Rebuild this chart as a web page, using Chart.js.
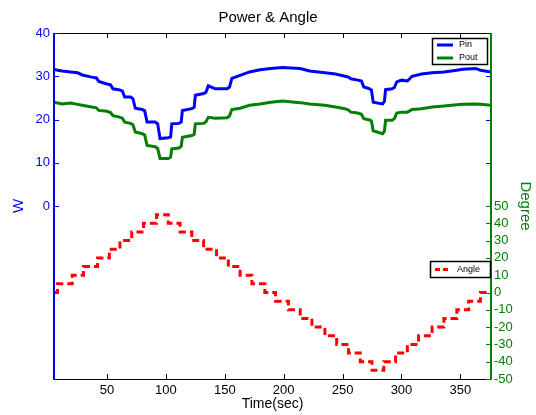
<!DOCTYPE html>
<html>
<head>
<meta charset="utf-8">
<script src="https://cdn.jsdelivr.net/npm/chart.js@4/dist/chart.umd.min.js"></script>
<style>
  body { margin: 0; background: #fff; }
  #wrap { width: 536px; height: 415px; }
</style>
</head>
<body>
<div id="wrap"><canvas id="chart" width="536" height="415"></canvas></div>
<script>
// time axis for power curves (sec)
const timePow = [5, 8, 12, 19, 25, 29, 37, 41, 43, 50, 53, 55, 60, 63, 65, 70, 72, 74, 80, 82, 84, 91, 93, 95,
  102, 104, 105, 111, 113, 114, 122, 124, 125, 132, 134, 136, 142, 152, 154, 156, 163, 171, 180, 189, 199,
  214, 222, 235, 244, 252, 255, 257, 263, 266, 268, 273, 274.5, 276, 284, 285.5, 286.5, 292, 294, 296,
  300, 305, 309, 317, 326, 336, 347, 352, 363, 367, 376];
// input power (W)
const pinW = [31.6, 31.4, 31.2, 31.0, 30.8, 30.3, 29.8, 29.6, 28.8, 28.2, 28.0, 27.1, 26.9, 26.6, 25.2, 25.2, 24.8, 22.6, 22.3, 22.0, 19.4, 19.4, 19.0, 15.6,
  15.8, 16.0, 19.0, 19.1, 19.4, 22.1, 22.5, 22.8, 25.6, 26.0, 26.3, 27.8, 27.1, 27.1, 27.5, 29.5, 30.2, 31.0, 31.5, 31.8, 32.0,
  31.8, 31.2, 30.8, 30.5, 30.0, 29.8, 29.4, 29.1, 28.9, 27.5, 27.1, 26.8, 24.0, 23.6, 24.2, 26.9, 27.1, 27.4, 28.7,
  29.1, 28.9, 30.0, 30.5, 30.8, 31.0, 31.4, 31.6, 31.8, 31.4, 31.0];
// output power (W)
const poutW = [24.0, 23.8, 23.6, 23.8, 23.5, 23.3, 22.9, 22.7, 22.1, 21.9, 21.6, 20.9, 20.6, 20.3, 19.4, 19.1, 18.8, 17.1, 16.7, 16.4, 14.0, 13.7, 13.3, 11.0,
  11.0, 11.3, 13.2, 13.4, 13.8, 15.9, 16.3, 16.6, 19.0, 19.1, 19.5, 20.5, 20.3, 20.4, 20.8, 22.3, 22.6, 23.3, 23.6, 24.0, 24.3,
  23.9, 23.6, 23.3, 22.9, 22.5, 22.2, 21.7, 21.5, 21.2, 20.2, 19.9, 19.6, 17.4, 16.7, 17.3, 19.8, 19.8, 20.2, 21.5,
  21.7, 21.7, 22.3, 22.5, 22.9, 23.1, 23.4, 23.5, 23.6, 23.5, 23.3];
// angle steps: end time of each level (sec) and level (degree)
const timeAngle = [5, 8, 20.5, 30, 42, 52, 61, 71, 81, 92, 102, 112, 122, 132, 143, 153, 163, 173, 184, 193,
  204, 214, 224, 235, 245, 255, 265, 275, 285, 295, 305, 314.5, 326, 336, 347, 357, 367, 376];
const angleDeg = [0, 5, 10, 15, 20, 25, 30, 35, 40, 45, 40, 35, 30, 25, 20, 15, 10, 5, 0, -5,
  -10, -15, -20, -25, -30, -35, -40, -45, -40, -35, -30, -25, -20, -15, -10, -5, 0, 0];

const xTicks = [50, 100, 150, 200, 250, 300, 350];
const wTicks = [0, 10, 20, 30, 40];
const degTicks = [-50, -40, -30, -20, -10, 0, 10, 20, 30, 40, 50];

const BLUE = '#0000ff';
const GREEN = '#008000';
const RED = '#ff0000';
const FONT = '"Liberation Sans", Arial, sans-serif';

function pts(xs, ys) {
  return xs.map((x, i) => ({ x: x, y: ys[i] }));
}

// рамка осей, внутренние засечки и две легенды
const framePlugin = {
  id: 'frame',
  afterDraw(chart) {
    const ctx = chart.ctx;
    const a = chart.chartArea;
    const sx = chart.scales.x, sy = chart.scales.y, sy1 = chart.scales.y1;
    const tl = 5;
    ctx.save();
    ctx.lineWidth = 1;
    // top and bottom
    ctx.strokeStyle = '#000';
    ctx.beginPath();
    ctx.moveTo(a.left, a.top + 0.5); ctx.lineTo(a.right, a.top + 0.5);
    ctx.moveTo(a.left, a.bottom + 0.5); ctx.lineTo(a.right, a.bottom + 0.5);
    xTicks.forEach(v => {
      const px = Math.round(sx.getPixelForValue(v)) + 0.5;
      ctx.moveTo(px, a.top); ctx.lineTo(px, a.top + tl);
      ctx.moveTo(px, a.bottom); ctx.lineTo(px, a.bottom - tl);
    });
    ctx.stroke();
    // left axis (W)
    ctx.strokeStyle = BLUE;
    ctx.lineWidth = 2;
    ctx.beginPath();
    ctx.moveTo(a.left, a.top); ctx.lineTo(a.left, a.bottom + 1);
    ctx.stroke();
    ctx.lineWidth = 1;
    ctx.beginPath();
    wTicks.forEach(v => {
      const py = Math.round(sy.getPixelForValue(v)) + 0.5;
      ctx.moveTo(a.left, py); ctx.lineTo(a.left + tl, py);
      ctx.moveTo(a.right, py); ctx.lineTo(a.right - tl, py);
    });
    ctx.stroke();
    // right axis (Degree)
    ctx.strokeStyle = GREEN;
    ctx.lineWidth = 2;
    ctx.beginPath();
    ctx.moveTo(a.right, a.top); ctx.lineTo(a.right, a.bottom + 1);
    ctx.stroke();
    ctx.lineWidth = 1;
    ctx.beginPath();
    degTicks.forEach(v => {
      const py = Math.round(sy1.getPixelForValue(v)) + 0.5;
      ctx.moveTo(a.right, py); ctx.lineTo(a.right - tl, py);
    });
    ctx.stroke();

    // legend: Pin / Pout
    drawLegend(ctx, 432, 38, 55, 26, [
      { label: 'Pin', color: BLUE, dash: [] },
      { label: 'Pout', color: GREEN, dash: [] }
    ]);
    // legend: Angle
    drawLegend(ctx, 430, 261, 60, 16, [
      { label: 'Angle', color: RED, dash: [5, 3] }
    ]);
    ctx.restore();
  }
};

function drawLegend(ctx, x, y, w, h, items) {
  ctx.save();
  ctx.fillStyle = '#fff';
  ctx.fillRect(x, y, w, h);
  ctx.strokeStyle = '#000';
  ctx.lineWidth = 1.5;
  ctx.setLineDash([]);
  ctx.strokeRect(x + 0.5, y + 0.5, w, h);
  const rowH = h / items.length;
  ctx.font = '9px ' + FONT;
  ctx.textBaseline = 'middle';
  items.forEach((it, i) => {
    const cy = y + rowH * i + rowH / 2 + 0.5;
    ctx.strokeStyle = it.color;
    ctx.lineWidth = 3;
    ctx.setLineDash(it.dash);
    ctx.beginPath();
    ctx.moveTo(x + 5, cy); ctx.lineTo(x + 21, cy);
    ctx.stroke();
    ctx.setLineDash([]);
    ctx.fillStyle = '#000';
    ctx.fillText(it.label, x + 27, cy);
  });
  ctx.restore();
}

const chart = new Chart(document.getElementById('chart'), {
  type: 'line',
  data: {
    datasets: [
      {
        label: 'Pin', data: pts(timePow, pinW), yAxisID: 'y',
        borderColor: BLUE, borderWidth: 3, pointRadius: 0, tension: 0, fill: false
      },
      {
        label: 'Pout', data: pts(timePow, poutW), yAxisID: 'y',
        borderColor: GREEN, borderWidth: 3, pointRadius: 0, tension: 0, fill: false
      },
      {
        label: 'Angle', data: pts(timeAngle, angleDeg), yAxisID: 'y1',
        borderColor: RED, borderWidth: 3, borderDash: [7, 4], pointRadius: 0,
        stepped: 'before', fill: false
      }
    ]
  },
  options: {
    responsive: false,
    animation: false,
    events: [],
    layout: { padding: 0 },
    plugins: {
      legend: { display: false },
      tooltip: { enabled: false },
      title: {
        display: true, text: 'Power & Angle', color: '#000',
        font: { family: FONT, size: 15, weight: 'normal' },
        padding: { top: 9, bottom: 6 }
      }
    },
    scales: {
      x: {
        type: 'linear', min: 5, max: 376,
        grid: { display: false, drawTicks: false }, border: { display: false },
        afterBuildTicks: ax => { ax.ticks = xTicks.map(v => ({ value: v })); },
        afterFit: ax => { ax.height = 36; },
        ticks: { color: '#000', padding: 4, font: { family: FONT, size: 13 } },
        title: {
          display: true, text: 'Time(sec)', color: '#000',
          font: { family: FONT, size: 14 }, padding: { top: 0, bottom: 2 }
        }
      },
      y: {
        type: 'linear', position: 'left', min: -40, max: 40,
        grid: { display: false, drawTicks: false }, border: { display: false },
        afterBuildTicks: ax => { ax.ticks = wTicks.map(v => ({ value: v })); },
        afterFit: ax => { ax.width = 54; },
        ticks: { color: BLUE, padding: 4, font: { family: FONT, size: 13 } },
        title: {
          display: true, text: 'W', color: BLUE,
          font: { family: FONT, size: 15 }, padding: { top: 10, bottom: 0 }
        }
      },
      y1: {
        type: 'linear', position: 'right', min: -50, max: 150,
        grid: { display: false, drawTicks: false }, border: { display: false },
        afterBuildTicks: ax => { ax.ticks = degTicks.map(v => ({ value: v })); },
        afterFit: ax => { ax.width = 45; },
        ticks: { color: GREEN, padding: 3, font: { family: FONT, size: 13 } },
        title: {
          display: true, text: 'Degree', color: GREEN,
          font: { family: FONT, size: 15 }, padding: { top: 2, bottom: 0 }
        }
      }
    }
  },
  plugins: [framePlugin]
});
</script>
</body>
</html>
